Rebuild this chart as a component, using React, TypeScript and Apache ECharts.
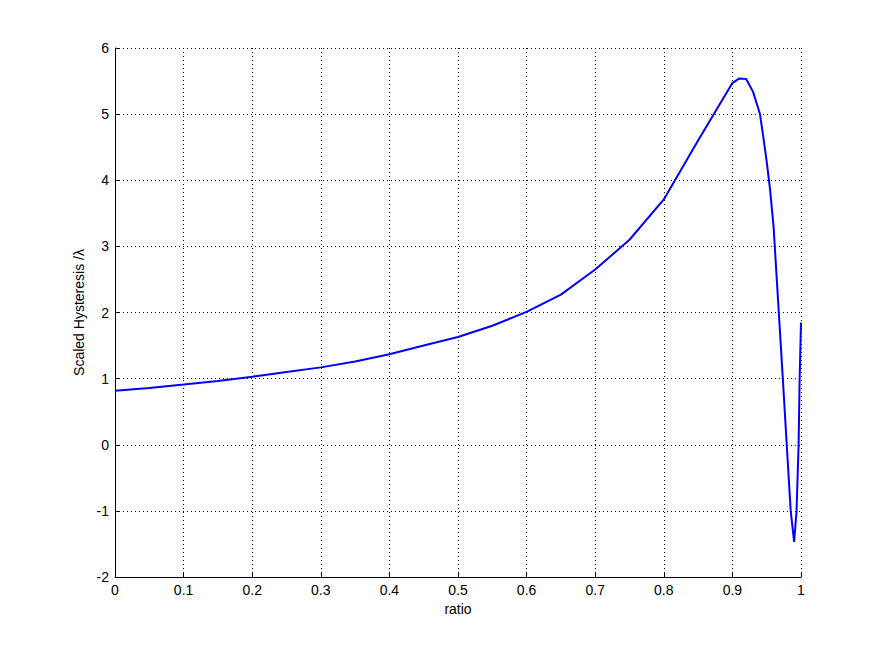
import React, { useEffect, useRef } from "react";
import * as echarts from "echarts";

const ratio = [0, 0.05, 0.1, 0.15, 0.2, 0.25, 0.3, 0.35, 0.4, 0.45, 0.5, 0.55, 0.6, 0.65, 0.7, 0.75, 0.8, 0.85, 0.9, 0.91, 0.92, 0.93, 0.94, 0.945, 0.95, 0.955, 0.96, 0.965, 0.97, 0.975, 0.98, 0.985, 0.99, 0.9935, 0.9965, 0.998, 1.0];
const hysteresis = [0.815, 0.86, 0.91, 0.965, 1.03, 1.1, 1.17, 1.26, 1.37, 1.5, 1.63, 1.8, 2.01, 2.27, 2.65, 3.1, 3.71, 4.6, 5.47, 5.54, 5.53, 5.34, 5.01, 4.66, 4.28, 3.85, 3.3, 2.45, 1.6, 0.74, -0.14, -1.0, -1.47, -1.0, 0.0, 1.0, 1.85];

const xTicks = { min: 0, max: 1, interval: 0.1 };
const yTicks = { min: -2, max: 6, interval: 1 };

export default function App() {
  const ref = useRef<HTMLDivElement>(null);
  useEffect(() => {
    if (!ref.current) return;
    const chart = echarts.init(ref.current, null, { renderer: "svg" });
    const font = "'Liberation Sans', Arial, Helvetica, sans-serif";
    const gridLine = { show: true, lineStyle: { color: "#000", width: 1, type: [1, 3] as any } };
    chart.setOption({
      animation: false,
      backgroundColor: "#fff",
      grid: { left: 115, right: 84, top: 48, bottom: 72, containLabel: false },
      xAxis: {
        type: "value",
        min: xTicks.min,
        max: xTicks.max,
        interval: xTicks.interval,
        name: "ratio",
        nameLocation: "middle",
        nameGap: 24,
        nameTextStyle: { color: "#000", fontSize: 14, fontFamily: font },
        axisLine: { show: true, onZero: false, lineStyle: { color: "#000", width: 1 } },
        axisTick: { show: true, inside: true, length: 5, lineStyle: { color: "#000" } },
        axisLabel: {
          color: "#000",
          fontSize: 14,
          fontFamily: font,
          margin: 6,
          formatter: (v: number) => String(Math.round(v * 10) / 10),
        },
        splitLine: gridLine,
      },
      yAxis: {
        type: "value",
        min: yTicks.min,
        max: yTicks.max,
        interval: yTicks.interval,
        name: "Scaled Hysteresis /λ",
        nameLocation: "middle",
        nameGap: 25,
        nameTextStyle: { color: "#000", fontSize: 14, fontFamily: font },
        axisLine: { show: true, onZero: false, lineStyle: { color: "#000", width: 1 } },
        axisTick: { show: true, inside: true, length: 5, lineStyle: { color: "#000" } },
        axisLabel: { color: "#000", fontSize: 14, fontFamily: font, margin: 6 },
        splitLine: gridLine,
      },
      series: [
        {
          type: "line",
          data: ratio.map((r, i) => [r, hysteresis[i]]),
          symbol: "none",
          smooth: false,
          clip: false,
          lineStyle: { color: "#0000ff", width: 2 },
        },
      ],
    });
    return () => chart.dispose();
  }, []);
  return <div ref={ref} style={{ width: 885, height: 649, position: "absolute", left: 0, top: 0 }} />;
}
